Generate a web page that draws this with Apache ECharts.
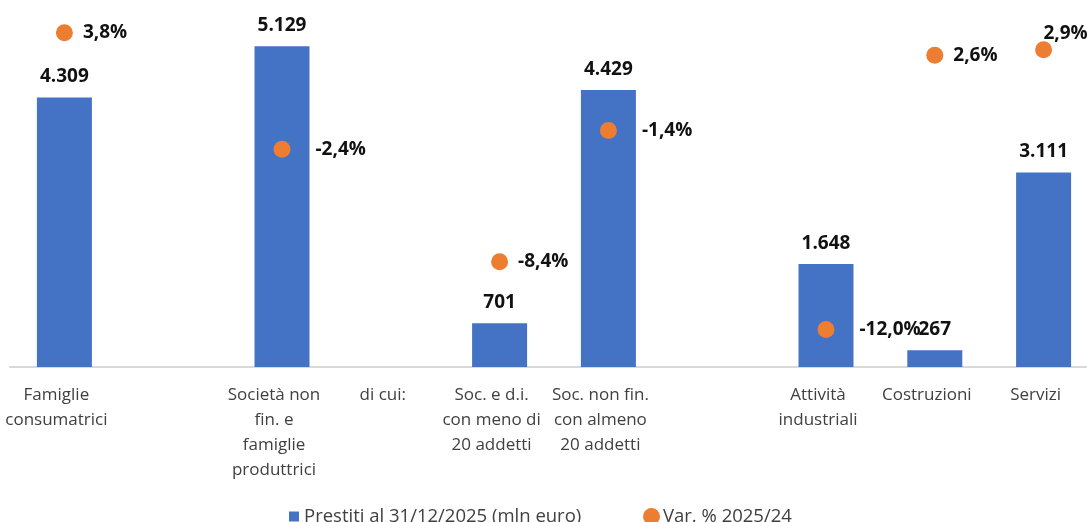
<!DOCTYPE html>
<html>
<head>
	<meta charset="utf-8"/>
	<title>Prestiti</title>
	<style>
		* {
			margin: 0;
			padding: 0;
		}
		html, body {
			width: 100%;
			height: 100%;
			background: #fff;
		}
		#main {
			width: 1087px;
			height: 522px;
		}
	</style>
</head>
<body>

	<div id="main"></div>

	<script src="https://cdn.jsdelivr.net/npm/echarts@6/dist/echarts.min.js"></script>
	<script>
		var categories = [
			'Famiglie\nconsumatrici',
			'',
			'Società non\nfin. e\nfamiglie\nproduttrici',
			'di cui:',
			'Soc. e d.i.\ncon meno di\n20 addetti',
			'Soc. non fin.\ncon almeno\n20 addetti',
			'',
			'Attività\nindustriali',
			'Costruzioni',
			'Servizi'
		];
		// mln euro
		var prestiti = [4309, '-', 5129, '-', 701, 4429, '-', 1648, 267, 3111];
		// var. % 2025/24
		var variazioni = [3.8, '-', -2.4, '-', -8.4, -1.4, '-', -12.0, 2.6, 2.9];

		var font = 'Open Sans';
		var barWidth = 55;
		var dotSize = 17;
		var myChart = echarts.init(document.getElementById('main'));

		function fmtThousands(v) {
			return String(v).replace(/\B(?=(\d{3})+(?!\d))/g, '.');
		}

		// il punto cade dentro la barra? allora l'etichetta va oltre il bordo della barra
		function insideBar(i) {
			var b = prestiti[i];
			var v = variazioni[i];
			if (b === '-' || v === '-') return false;
			var yBar = b / 5500;
			var yDot = (v + 14) / 18.32;
			return yDot < yBar;
		}

		var option = {
			animation: false,
			textStyle: { fontFamily: font },
			grid: {
				left: 10,
				width: 1088,
				top: 23,
				bottom: 155,
				containLabel: false,
				outerBoundsMode: 'none'
			},
			legend: [{
				data: [{ name: 'Prestiti al 31/12/2025 (mln euro)', icon: 'rect' }],
				left: 284,
				top: 502,
				itemWidth: 10,
				itemHeight: 10,
				textStyle: { fontSize: 18.5, color: '#404040', fontFamily: font }
			}, {
				data: [{ name: 'Var. % 2025/24', icon: 'circle' }],
				left: 638,
				top: 502,
				itemWidth: 17,
				itemHeight: 17,
				textStyle: { fontSize: 18.5, color: '#404040', fontFamily: font, padding: [0, 0, 0, -2] }
			}],
			xAxis: {
				type: 'category',
				data: categories,
				axisTick: { show: false },
				axisLine: { lineStyle: { color: '#d9d9d9', width: 2 } },
				axisLabel: {
					interval: 0,
					fontSize: 17,
					lineHeight: 25,
					color: '#404040',
					margin: 16,
					padding: [0, 16, 0, 0],
					fontFamily: font
				}
			},
			yAxis: [{
				type: 'value',
				min: 0,
				max: 5500,
				show: false,
				splitLine: { show: false }
			}, {
				type: 'value',
				min: -14,
				max: 4.32,
				show: false,
				splitLine: { show: false }
			}],
			series: [{
				name: 'Prestiti al 31/12/2025 (mln euro)',
				type: 'bar',
				data: prestiti,
				barWidth: barWidth,
				itemStyle: { color: '#4472c4' },
				label: {
					show: true,
					position: 'top',
					distance: 11,
					fontSize: 19,
					fontWeight: 'bold',
					color: '#111',
					fontFamily: font,
					formatter: function (p) {
						return fmtThousands(p.value);
					}
				}
			}, {
				name: 'Var. % 2025/24',
				type: 'scatter',
				yAxisIndex: 1,
				data: variazioni.map(function (v, i) {
					if (v === '-') return v;
					// l'ultimo punto ha l'etichetta sopra, come nell'originale
					if (i === variazioni.length - 1) {
						return { value: v, label: { position: 'top', offset: [22, 12] } };
					}
					if (insideBar(i)) {
						return { value: v, label: { distance: (barWidth - dotSize) / 2 + 6 } };
					}
					return v;
				}),
				symbolSize: dotSize,
				itemStyle: { color: '#ed7d31', opacity: 1 },
				label: {
					show: true,
					position: 'right',
					distance: 10,
					fontSize: 19,
					fontWeight: 'bold',
					color: '#111',
					fontFamily: font,
					formatter: function (p) {
						return p.value.toFixed(1).replace('.', ',') + '%';
					}
				}
			}]
		};

		myChart.setOption(option);
	</script>
</body>
</html>
